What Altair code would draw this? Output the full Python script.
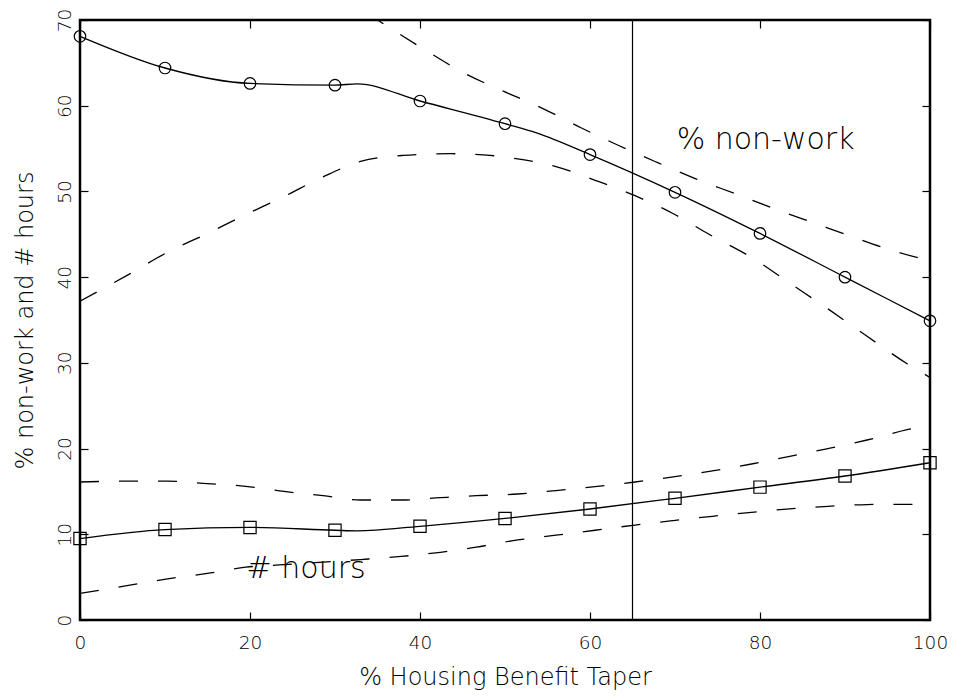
import altair as alt
import pandas as pd

# ---- data ----
taper = [0, 10, 20, 30, 40, 50, 60, 70, 80, 90, 100]
nonwork = [68.1, 64.4, 62.6, 62.4, 60.55, 57.9, 54.3, 49.9, 45.1, 40.0, 34.9]
hours = [9.5, 10.55, 10.8, 10.47, 10.93, 11.85, 12.95, 14.2, 15.5, 16.8, 18.35]

# smooth fitted curves (marker points plus visible kinks)
nw_line_x = [0, 10, 20, 30, 32.6, 40, 50, 53.8, 60, 70, 80, 90, 100]
nw_line_y = [68.1, 64.4, 62.6, 62.4, 62.55, 60.55, 57.9, 56.8, 54.3, 49.9, 45.1, 40.0, 34.9]
hr_line_x = [0, 10, 20, 30, 32.6, 40, 50, 60, 70, 80, 90, 100]
hr_line_y = [9.5, 10.55, 10.8, 10.47, 10.4, 10.93, 11.85, 12.95, 14.2, 15.5, 16.8, 18.35]

# confidence bands (dashed)
nw_up_x = [30, 36.1, 40.6, 45.2, 49.8, 54.4, 59, 63.5, 68.1, 72.6, 77.2, 81.9, 86.4, 90.9, 95.6, 100]
nw_up_y = [73.3, 69.3, 66.5, 63.8, 61.7, 59.7, 57.4, 55.3, 53.3, 51.4, 49.7, 47.9, 46.3, 44.7, 43.1, 41.9]
nw_lo_x = [0, 5.7, 10.3, 15, 19.5, 24, 28.6, 33, 38, 43.5, 47, 51.5, 56, 60.6, 65.3, 69.8, 74, 79.5, 83.5, 88, 92.6, 97.3, 100]
nw_lo_y = [37.2, 40.3, 42.9, 45.1, 47.3, 49.4, 51.7, 53.5, 54.2, 54.4, 54.3, 53.8, 52.9, 51.3, 49.5, 47.4, 45.0, 42.0, 39.3, 36.3, 33.1, 29.9, 28.3]
hr_up_x = [0, 5.7, 10.3, 15, 19.5, 24, 28.6, 33, 37.8, 42.4, 46.6, 51.5, 56, 60.6, 65.3, 69.8, 74.4, 79, 83.5, 88, 92.6, 97.3, 100]
hr_up_y = [16.1, 16.2, 16.2, 15.9, 15.6, 15.0, 14.5, 14.0, 14.0, 14.27, 14.5, 14.7, 15.1, 15.55, 16.1, 16.7, 17.4, 18.2, 19.1, 20.0, 21.0, 22.2, 22.8]
hr_lo_x = [0, 5.7, 10.3, 15, 19.5, 24, 28.6, 33, 37.8, 42.4, 46.6, 51.5, 56, 60.6, 65.3, 69.8, 74.4, 79, 83.5, 88, 92.6, 97.3, 100]
hr_lo_y = [3.1, 4.03, 4.8, 5.44, 6.16, 6.45, 6.75, 7.05, 7.42, 7.9, 8.5, 9.34, 9.9, 10.47, 11.08, 11.6, 12.1, 12.56, 12.97, 13.26, 13.47, 13.5, 13.5]

vline_x = [65]

label_text = ["% non-work", "# hours"]
label_x = [70.2, 19.6]
label_y = [54.9, 4.9]

x_ticks = [0, 20, 40, 60, 80, 100]
y_ticks = [0, 10, 20, 30, 40, 50, 60, 70]

W, H = 850, 600
FONT = "DejaVu Sans"
FW = 200

def df(xs, ys):
    return pd.DataFrame({"x": xs, "y": ys})

xs = alt.Scale(domain=[0, 100], nice=False, zero=False)
ys = alt.Scale(domain=[0, 70], nice=False, zero=False)

common = dict(grid=False, domain=False, labelFont=FONT, titleFont=FONT,
              labelColor="black", titleColor="black", labelFontWeight=FW,
              titleFontWeight=FW, tickColor="black")

x_main = alt.Axis(orient="bottom", values=x_ticks, ticks=False, tickSize=0,
                  labelFontSize=18.5, labelPadding=13, labelFlush=False,
                  title="% Housing Benefit Taper", titleFontSize=24,
                  titleX=W / 2, titleY=64, titleBaseline="alphabetic", **common)
x_tick_bot = alt.Axis(orient="top", offset=-H, values=x_ticks, ticks=True, tickSize=8,
                      tickWidth=1.2, labels=False, title=None, **common)
x_tick_top = alt.Axis(orient="bottom", offset=-H, values=x_ticks, ticks=True, tickSize=8,
                      tickWidth=1.2, labels=False, title=None, **common)

y_main = alt.Axis(orient="left", values=y_ticks, ticks=False, tickSize=0,
                  labelFontSize=18.5, labelPadding=10, labelAngle=270,
                  labelAlign="center", labelBaseline="alphabetic", labelFlush=False,
                  title="% non-work and # hours", titleFontSize=24, titleAngle=270,
                  titleX=-48, titleY=H / 2, titleBaseline="alphabetic", titleAlign="center",
                  **common)
y_tick_left = alt.Axis(orient="right", offset=-W, values=y_ticks, ticks=True, tickSize=8,
                       tickWidth=1.2, labels=False, title=None, **common)
y_tick_right = alt.Axis(orient="left", offset=-W, values=y_ticks, ticks=True, tickSize=8,
                        tickWidth=1.2, labels=False, title=None, **common)

def enc(chart, xa=None, ya=None):
    return chart.encode(
        x=alt.X("x:Q", scale=xs, axis=xa),
        y=alt.Y("y:Q", scale=ys, axis=ya),
    )

LW = 1.3
DASH = [19, 20]

nw_line = enc(alt.Chart(df(nw_line_x, nw_line_y)).mark_line(
    color="black", strokeWidth=LW, interpolate="monotone"), x_main, y_main)
hr_line = enc(alt.Chart(df(hr_line_x, hr_line_y)).mark_line(
    color="black", strokeWidth=LW, interpolate="monotone"), x_tick_bot, y_tick_left)
nw_up = enc(alt.Chart(df(nw_up_x, nw_up_y)).mark_line(
    color="black", strokeWidth=LW, interpolate="monotone", strokeDash=DASH, clip=True),
    x_tick_top, y_tick_right)
nw_lo = enc(alt.Chart(df(nw_lo_x, nw_lo_y)).mark_line(
    color="black", strokeWidth=LW, interpolate="monotone", strokeDash=DASH, clip=True))
hr_up = enc(alt.Chart(df(hr_up_x, hr_up_y)).mark_line(
    color="black", strokeWidth=LW, interpolate="monotone", strokeDash=DASH, clip=True))
hr_lo = enc(alt.Chart(df(hr_lo_x, hr_lo_y)).mark_line(
    color="black", strokeWidth=LW, interpolate="monotone", strokeDash=DASH, clip=True))

nw_pts = enc(alt.Chart(df(taper, nonwork)).mark_point(
    shape="circle", filled=False, size=133, color="black", strokeWidth=1.2, opacity=1))
hr_pts = enc(alt.Chart(df(taper, hours)).mark_point(
    shape="square", filled=False, size=150, color="black", strokeWidth=1.2, opacity=1))

vline = alt.Chart(pd.DataFrame({"x": vline_x})).mark_rule(
    color="black", strokeWidth=1.2).encode(x=alt.X("x:Q", scale=xs, axis=None))

labels = alt.Chart(pd.DataFrame({"x": label_x, "y": label_y, "t": label_text})).mark_text(
    align="left", baseline="alphabetic", fontSize=30, font=FONT, fontWeight=FW,
    color="black").encode(
    x=alt.X("x:Q", scale=xs, axis=None),
    y=alt.Y("y:Q", scale=ys, axis=None),
    text="t:N",
)

chart = alt.layer(
    nw_line, hr_line, nw_up, nw_lo, hr_up, hr_lo, nw_pts, hr_pts, vline, labels
).resolve_axis(x="independent", y="independent").properties(
    width=W, height=H,
    autosize=alt.AutoSizeParams(type="none"),
    padding={"left": 72, "top": 12, "right": 18, "bottom": 70},
    background="white",
).configure_view(stroke="black", strokeWidth=2.5)

chart.save("out.html", embed_options={"renderer": "svg", "actions": False})
